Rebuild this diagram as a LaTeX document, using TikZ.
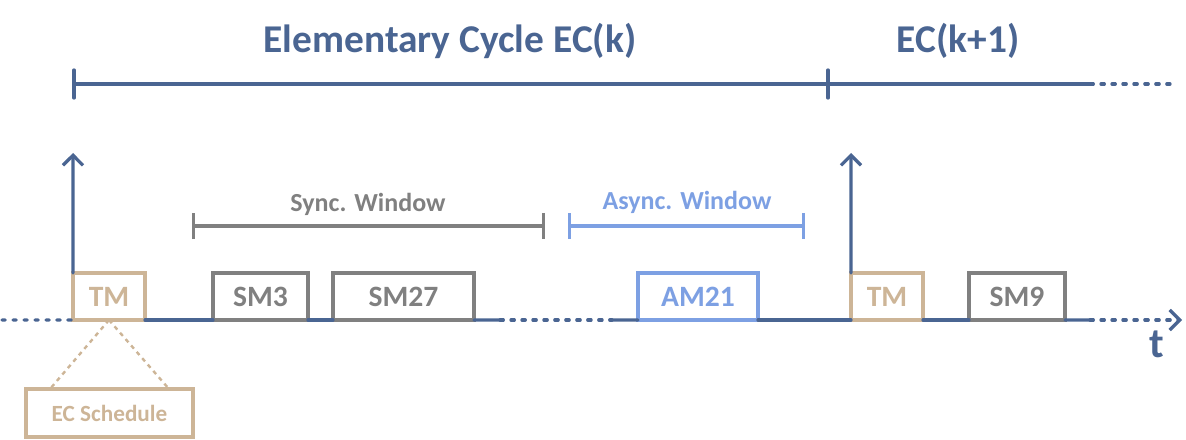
\documentclass[tikz,border=0pt]{standalone}
\usepackage{fontspec}
\setmainfont{Carlito}
\usetikzlibrary{arrows.meta,
                positioning
            }

\definecolor{ecblue}{HTML}{4A6592}
\definecolor{tmtan}{HTML}{CDB597}
\definecolor{smgray}{HTML}{808080}
\definecolor{amblue}{HTML}{7DA0E3}

\tikzset{
    slot/.style={draw, line width=2.4pt, outer sep=0pt, fill=white, minimum height=1.175cm, inner sep=0pt, font=\fontsize{21}{24}\selectfont\bfseries},
    tmslot/.style={slot, draw=tmtan, text=tmtan, minimum width=1.8cm},
    smslot/.style={slot, draw=smgray, text=smgray},
    amslot/.style={slot, draw=amblue, text=amblue},
    axis/.style={ecblue, line width=2.3pt, line cap=round},
    dots/.style={axis, dash pattern=on 2.4pt off 5.4pt},
    window/.style={line width=2.3pt, line cap=round, {Bar[width=0.65cm]}-{Bar[width=0.65cm]}},
    title/.style={ecblue, anchor=base, font=\fontsize{28}{32}\selectfont\bfseries},
    wintitle/.style={anchor=base, font=\fontsize{18.5}{21}\selectfont\bfseries},
    chevron/.style={-{Straight Barb[length=0.25cm, width=0.5cm, line width=2.3pt]}},
}

\begin{document}
\begin{tikzpicture}[x=0.025cm, y=-0.025cm]
                \useasboundingbox (0,0) rectangle (1186,440);

                % Slots on the time line
                \node (tm1) [tmslot] at (109,296.5) {TM};
                \node (sm3) [smslot, minimum width=2.375cm] at (260.5,296.5) {SM3};
                \node (sm27) [smslot, minimum width=3.525cm] at (403.5,296.5) {SM27};
                \node (am21) [amslot, minimum width=3cm] at (698,296.5) {AM21};
                \node (tm2) [tmslot] at (887,296.5) {TM};
                \node (sm9) [smslot, minimum width=2.4cm] at (1017,296.5) {SM9};

                % EC Schedule carried by the trigger message
                \node (ecs) [draw=tmtan, text=tmtan, line width=2.4pt, outer sep=0pt, minimum width=4.175cm, minimum height=1.2cm, font=\fontsize{16.5}{19}\selectfont\bfseries] at (109.5,413) {EC Schedule};
                \draw [tmtan, line width=1.7pt, dashed] (tm1.south) -- ([xshift=0.6cm]ecs.north west);
                \draw [tmtan, line width=1.7pt, dashed] (tm1.south) -- ([xshift=-0.6cm]ecs.north east);

                % Time line
                \coordinate (t0) at (2,320);
                \coordinate (gap0) at (500,320);
                \coordinate (gap1) at (612,320);
                \coordinate (tend) at (1090,320);
                \coordinate (tarrow) at (1182,320);
                \draw [dots] (t0) -- (tm1.south west);
                \draw [axis] (tm1.south east) -- (sm3.south west);
                \draw [axis] (sm3.south east) -- (sm27.south west);
                \draw [axis] (sm27.south east) -- (gap0);
                \draw [dots] (gap0) -- (gap1);
                \draw [axis] (gap1) -- (am21.south west);
                \draw [axis] (am21.south east) -- (tm2.south west);
                \draw [axis] (tm2.south east) -- (sm9.south west);
                \draw [axis] (sm9.south east) -- (tend);
                \draw [dots] (tend) -- ([xshift=-0.2cm]tarrow);
                \draw [axis, chevron] ([xshift=-0.1cm]tarrow) -- (tarrow);
                \node (t) [ecblue, anchor=base, font=\fontsize{30}{34}\selectfont\bfseries] at (1157,357) {t};

                % Trigger arrows
                \coordinate (up1) at (73,153);
                \coordinate (up2) at (851,153);
                \draw [axis, chevron] (tm1.north west) -- (up1);
                \draw [axis, chevron] (tm2.north west) -- (up2);

                % Windows
                \coordinate (sw0) at (192,226);
                \coordinate (sw1) at (545,226);
                \coordinate (aw0) at (568,226);
                \coordinate (aw1) at (805,226);
                \draw [window, smgray] (sw0) -- (sw1);
                \draw [window, amblue] (aw0) -- (aw1);
                \node (swlabel) [wintitle, text=smgray] at (368,211) {Sync. Window};
                \node (awlabel) [wintitle, text=amblue] at (687,209) {Async. Window};

                % Elementary cycles
                \coordinate (ec0) at (74,84);
                \coordinate (ec1) at (828,84);
                \coordinate (ecend) at (1090,84);
                \coordinate (ecdots) at (1170,84);
                \draw [axis] (ec0) -- (ecend);
                \draw [axis] (ec0) ++(0,-14) -- ++(0,28);
                \draw [axis] (ec1) ++(0,-14) -- ++(0,28);
                \draw [dots] (ecend) -- (ecdots);
                \node (eck) [title] at (450,53) {Elementary Cycle EC(k)};
                \node (eck1) [title] at (958,53) {EC(k+1)};
\end{tikzpicture}
\end{document}
